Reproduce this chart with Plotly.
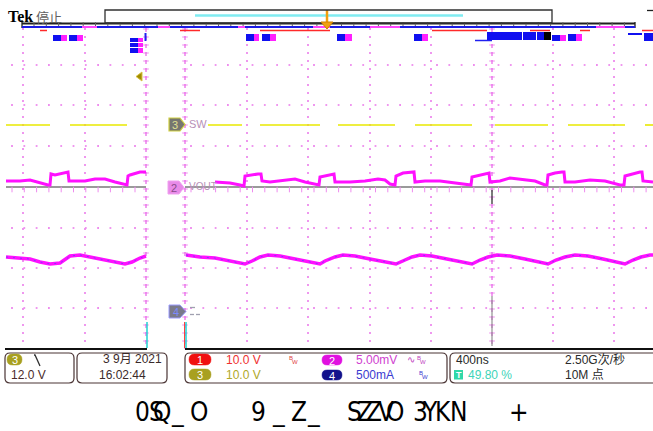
import numpy as np
import plotly.graph_objects as go

W, H = 653, 431

# ---------------- values (screen pixel units) ----------------
# Channel 3 (SW): high-level segments
ch3_x0 = [6, 70, 208, 260, 338, 415, 495, 568, 645]
ch3_x1 = [50, 127, 242, 320, 395, 472, 548, 625, 653]
ch3_level = 125

# Channel 2 (VOUT ripple)
ch2_left_x = [6, 20, 30, 40, 48, 50, 51, 55, 60, 66, 68, 69, 75, 85, 95, 105, 115, 125, 127, 128, 130, 140, 146]
ch2_left_y = [181, 181, 180, 183, 185, 185, 174, 175, 174, 173, 172, 181, 181, 181, 179, 179, 182, 185, 185, 176, 175, 172, 172]
ch2_right_x = [215, 230, 240, 244, 245, 250, 258, 261, 262, 270, 285, 295, 305, 318, 319, 320, 328, 334, 335, 350,
               365, 378, 385, 390, 395, 396, 403, 412, 414, 415, 425, 440, 455, 470, 471, 472, 480, 488, 489, 490,
               500, 510, 520, 535, 545, 547, 548, 555, 562, 564, 565, 575, 590, 605, 620, 624, 625, 632, 640, 642,
               643, 653]
ch2_right_y = [182, 183, 185, 186, 176, 175, 174, 174, 181, 182, 180, 179, 182, 185, 185, 177, 175, 174, 182, 182,
               181, 179, 180, 184, 185, 176, 173, 172, 172, 182, 181, 181, 183, 185, 185, 177, 175, 173, 173, 182,
               181, 178, 179, 181, 185, 185, 175, 173, 172, 172, 182, 182, 180, 181, 185, 185, 176, 174, 172, 172,
               181, 182]

# Current waveform (lower trace)
ch4_left_x = [6, 20, 30, 40, 50, 60, 65, 70, 80, 90, 100, 110, 120, 125, 132, 140, 146]
ch4_left_y = [257, 258, 259, 262, 264, 263, 260, 256, 255, 257, 259, 261, 263, 264, 262, 258, 256]
ch4_right_x = [186, 200, 215, 230, 240, 245, 252, 260, 268, 280, 295, 310, 320, 325, 335, 343, 355, 370, 385, 396,
               405, 412, 420, 432, 447, 462, 472, 480, 488, 497, 510, 525, 538, 548, 556, 565, 575, 588, 603, 615,
               625, 633, 641, 650, 653]
ch4_right_y = [255, 257, 258, 261, 263, 264, 261, 257, 255, 256, 259, 262, 264, 261, 257, 255, 256, 259, 262, 264,
               260, 257, 255, 256, 259, 262, 264, 260, 257, 255, 256, 259, 262, 264, 260, 257, 255, 256, 259, 262,
               264, 260, 257, 255, 255]

# Graticule
grid_x = [23, 85, 247, 308, 370, 431, 553, 614]
grid_axis_x = [146, 185, 492]
grid_y = [65, 105, 146, 228, 268, 308]
ch2_ground = 187
screen_top, screen_bottom = 28, 349
left_sec = (6, 146)
right_sec = (185, 653)
dot_dx, dot_dy = 12.3, 8

# Header indicator blocks (x0, x1, y0, y1)
blue_blocks = [(53, 61, 35, 41), (69, 77, 35, 41), (130, 138, 38, 42), (130, 138, 43, 47), (130, 138, 48, 53),
               (246, 254, 34, 41), (262, 270, 34, 41), (337, 345, 34, 41), (414, 422, 34, 41), (487, 522, 32, 40),
               (523, 536, 32, 40), (537, 544, 32, 40), (552, 560, 35, 41), (568, 576, 34, 41), (644, 653, 33, 41),
               (628, 642, 33, 35)]
mag_blocks = [(61, 67, 35, 41), (77, 83, 35, 41), (138, 143, 38, 42), (138, 143, 43, 47), (138, 143, 48, 53),
              (254, 259, 34, 41), (270, 276, 34, 41), (345, 352, 34, 41), (422, 428, 34, 41), (560, 566, 35, 41),
              (576, 582, 34, 41)]
black_blocks = [(544, 551, 32, 40)]
mag_ruler = [(82, 97), (158, 170), (238, 245), (313, 330), (370, 400), (596, 625)]
red_ruler = [(40, 47), (180, 200), (260, 330), (432, 487), (530, 550), (580, 590), (642, 653)]

# Status boxes (x0, x1, y0, y1)
status_boxes = [(5, 74, 353, 383), (77, 167, 353, 383), (185, 447, 353, 383), (450, 660, 353, 383)]

# Bottom caption glyphs
cap_chars = ["0", "S", "Q", "_", "O", "9", "_", "Z", "_", "S", "Z", "Z", "V", "O", "3", "Y", "K", "N", "+"]
cap_xc = [142, 156, 162, 177, 199, 258, 278, 299, 313, 354, 365, 374, 386, 395, 420, 430, 443, 459, 519]

# ---------------- figure ----------------
fig = go.Figure()
shapes = []
ann = []


def line(xs, ys, color, width=1, dash=None, mode="lines", **kw):
    fig.add_trace(go.Scatter(x=xs, y=ys, mode=mode, hoverinfo="skip", showlegend=False,
                             line=dict(color=color, width=width, dash=dash), **kw))


def rect(x0, x1, y0, y1, fill, lc=None, lw=0):
    shapes.append(dict(type="rect", xref="x", yref="y", x0=x0, x1=x1, y0=y0, y1=y1,
                       fillcolor=fill, line=dict(color=lc or fill, width=lw), layer="above"))


def rrect_path(x0, x1, y0, y1, r):
    return (f"M{x0+r},{y0} L{x1-r},{y0} Q{x1},{y0} {x1},{y0+r} L{x1},{y1-r} Q{x1},{y1} {x1-r},{y1} "
            f"L{x0+r},{y1} Q{x0},{y1} {x0},{y1-r} L{x0},{y0+r} Q{x0},{y0} {x0+r},{y0} Z")


def text(x, y, s, color, size=12, xanchor="left", family="Liberation Sans, Arial, sans-serif", bold=False):
    if bold:
        s = f"<b>{s}</b>"
    ann.append(dict(x=x, y=y, xref="x", yref="y", text=s, showarrow=False, xanchor=xanchor,
                    yanchor="middle", font=dict(color=color, size=size, family=family)))


PINK = "#ee8cee"

# graticule dots: vertical
for gx in grid_x:
    ys = np.arange(screen_top + 1, screen_bottom - 2, dot_dy)
    line([gx] * len(ys), ys, PINK, mode="markers", marker=dict(size=1.8, color=PINK, symbol="square"))
# horizontal
for gy in grid_y:
    for a, b in (left_sec, right_sec):
        xs = np.arange(a + 6, b, dot_dx)
        line(xs, [gy] * len(xs), PINK, mode="markers", marker=dict(size=1.8, color=PINK, symbol="square"))
# axis lines with ticks (gap edges and centre)
for gx in grid_axis_x:
    ys = np.arange(screen_top + 1, screen_bottom - 2, dot_dy)
    line([gx] * len(ys), ys, PINK, mode="markers",
         marker=dict(size=4, color=PINK, symbol="line-ew", line=dict(width=1, color=PINK)))
    line([gx, gx], [screen_top, screen_bottom], "#e860e8", width=1.2, dash="4px,4px")
# dark marks on centre line
line([492, 492], [190, 204], "#505050", width=1.5)
line([492, 492], [296, 346], "#909090", width=1.2)
# cyan at gap edges bottom
line([147, 147], [322, 348], "#20d0d0", width=1.5)
line([186, 186], [322, 348], "#20d0d0", width=1.5)
line([184.5, 184.5], [322, 348], "#ff4040", width=1)

# ch2 ground line with ticks
for a, b in (left_sec, right_sec):
    line([a, b], [ch2_ground, ch2_ground], "#9a9a9a", width=2)
    xs = np.arange(a + 6, b, dot_dx)
    line(xs, [ch2_ground + 2.5] * len(xs), PINK, mode="markers",
         marker=dict(size=4, color=PINK, symbol="line-ns", line=dict(width=1, color=PINK)))

# screen bottom line
line([5, 147], [screen_bottom, screen_bottom], "#101010", width=2)
line([185, 653], [screen_bottom, screen_bottom], "#101010", width=2)

# ---------------- waveforms ----------------
for a, b in zip(ch3_x0, ch3_x1):
    line([a, b], [ch3_level, ch3_level], "#e8e800", width=1.6)

MAG = "#ff10ff"
line(ch2_left_x, ch2_left_y, MAG, width=3)
line(ch2_right_x, ch2_right_y, MAG, width=3)
line(ch4_left_x, ch4_left_y, MAG, width=3.5)
line(ch4_right_x, ch4_right_y, MAG, width=3.5)
line(ch4_left_x, ch4_left_y, "#6a3cff", width=0.8, dash="2px,5px")
line(ch4_right_x, ch4_right_y, "#6a3cff", width=0.8, dash="2px,5px")

# ---------------- header ----------------
text(6, 16, "Tek", "#000000", size=16, family="Liberation Serif, DejaVu Serif, serif", bold=True)
text(34, 16, "停止", "#606060", size=13, family="Noto Sans CJK SC, sans-serif")
shapes.append(dict(type="rect", xref="x", yref="y", x0=105, x1=552, y0=10, y1=23,
                   line=dict(color="#303030", width=1.3), fillcolor="rgba(0,0,0,0)"))
line([195, 463], [15.5, 15.5], "#80ecf2", width=2.5)
line([647, 653], [10.5, 10.5], "#202020", width=1.3)
# ruler
line([22, 635], [23.5, 23.5], "#202020", width=2)
line([22, 22], [20, 28], "#202020", width=1.3)
line([635, 635], [22, 28], "#202020", width=1.3)
tx = np.arange(34, 632, 12.3)
line(tx, [25] * len(tx), "#606060", mode="markers",
     marker=dict(size=4, color="#606060", symbol="line-ns", line=dict(width=1, color="#606060")))
line([22, 635], [27, 27], "#1c1ce6", width=2)
for a, b in mag_ruler:
    line([a, b], [27, 27], "#ff44ff", width=2)
for a, b in red_ruler:
    line([a, b], [30.5, 30.5], "#ff2a2a", width=1.5)
# trigger position marker
line([327, 327], [10, 23], "#f0a010", width=2.5)
shapes.append(dict(type="path", xref="x", yref="y", path="M321,22 L333,22 L327,29 Z",
                   fillcolor="#f0a010", line=dict(color="#d08000", width=1)))

for (x0, x1, y0, y1) in blue_blocks:
    rect(x0, x1, y0, y1, "#1010f0")
for (x0, x1, y0, y1) in mag_blocks:
    rect(x0, x1, y0, y1, "#ff20ff")
for (x0, x1, y0, y1) in black_blocks:
    rect(x0, x1, y0, y1, "#000000")
line([475, 492], [40.5, 40.5], "#2020f0", width=1.5)
line([145.5, 145.5], [33, 41], "#2020f0", width=2)

# trigger level arrow
shapes.append(dict(type="path", xref="x", yref="y", path="M136,76.5 L142,72 L142,81 Z",
                   fillcolor="#a08c00", line=dict(color="#d8c040", width=1)))

# channel markers
shapes.append(dict(type="path", xref="x", yref="y", path="M169,118 L180,118 L185,124.5 L180,131 L169,131 Z",
                   fillcolor="#767670", line=dict(color="#d0d040", width=1.2)))
text(175, 124.5, "3", "#e0e090", size=11, xanchor="center")
text(187, 124, "SW", "#b890b8", size=11)
shapes.append(dict(type="path", xref="x", yref="y", path="M168,181 L179,181 L184,187.5 L179,194 L168,194 Z",
                   fillcolor="#e88ae8", line=dict(color="#f0a0f0", width=1)))
text(174, 187.5, "2", "#8a4a8a", size=11, xanchor="center")
text(187, 186, "VOUT", "#b890b8", size=10)
shapes.append(dict(type="path", xref="x", yref="y", path="M169,305 L180,305 L186,311.5 L180,318 L169,318 Z",
                   fillcolor="#7a7a8a", line=dict(color="#9a9aff", width=1)))
text(176, 311.5, "4", "#7a8aff", size=11, xanchor="center")
line([190, 195], [307.5, 307.5], "#a0a0b0", width=1.3)
line([190, 194], [314.5, 314.5], "#a0a0b0", width=1.3)
line([196, 200], [314.5, 314.5], "#a0a0b0", width=1.3)

# ---------------- status area ----------------
for (x0, x1, y0, y1) in status_boxes:
    shapes.append(dict(type="path", xref="x", yref="y", path=rrect_path(x0, x1, y0, y1, 5),
                       fillcolor="rgba(0,0,0,0)", line=dict(color="#4a3434", width=1.2)))


def pill(x0, x1, y0, y1, fill, label, lc="#ffffff"):
    shapes.append(dict(type="path", xref="x", yref="y", path=rrect_path(x0, x1, y0, y1, (y1 - y0) / 2),
                       fillcolor=fill, line=dict(color=fill, width=0.5), layer="above"))
    text((x0 + x1) / 2, (y0 + y1) / 2 + 0.5, label, lc, size=11, xanchor="center")


pill(7, 22, 354, 365, "#a8a020", "3")
line([34, 35, 40], [355, 355, 366], "#303030", width=1.3)
text(9, 375, "12.0 V", "#4a2a2a", size=12)
text(164, 359, "3 9月 2021", "#3a2a2a", size=12, xanchor="right", family="Liberation Sans, Noto Sans CJK SC, sans-serif")
text(97, 375, "16:02:44", "#3a2a2a", size=12)

pill(189, 211, 354, 365, "#f01010", "1")
text(224, 359.5, "10.0 V", "#f03030", size=12)
text(287, 357.5, "B", "#e04040", size=6)
text(290, 362, "W", "#e04040", size=6)
pill(189, 211, 369, 380, "#a8a020", "3")
text(224, 375, "10.0 V", "#b0a828", size=12)
pill(322, 342, 355, 365, "#e010e0", "2")
text(354, 359.5, "5.00mV", "#d040d0", size=12)
text(405, 359.5, "∿", "#c040c0", size=10)
text(415, 357.5, "B", "#c040c0", size=6)
text(418, 362, "W", "#c040c0", size=6)
pill(322, 342, 370, 380, "#12128c", "4")
text(354, 375, "500mA", "#3a3ad0", size=12)
text(417, 372.5, "B", "#3a3ad0", size=6)
text(420, 377, "W", "#3a3ad0", size=6)

text(454, 359.5, "400ns", "#2a2a2a", size=12)
text(563, 359.5, "2.50G次/秒", "#2a2a2a", size=12, family="Liberation Sans, Noto Sans CJK SC, sans-serif")
rect(454, 463, 370, 379.5, "#30d8a8")
text(458.5, 375, "T", "#ffffff", size=9, xanchor="center", bold=True)
text(466, 375, "49.80 %", "#40d4b8", size=12)
text(563, 375, "10M 点", "#2a2a2a", size=12, family="Liberation Sans, Noto Sans CJK SC, sans-serif")

# ---------------- bottom caption ----------------
for ch, xc in zip(cap_chars, cap_xc):
    text(xc, 412, ch, "#000000", size=26, xanchor="center",
         family="Liberation Sans Narrow, DejaVu Sans Condensed, Arial Narrow, sans-serif")

fig.update_layout(
    width=W, height=H, margin=dict(l=0, r=0, t=0, b=0),
    paper_bgcolor="white", plot_bgcolor="white",
    xaxis=dict(range=[0, W], visible=False, fixedrange=True),
    yaxis=dict(range=[H, 0], visible=False, fixedrange=True),
    shapes=shapes, annotations=ann,
)
fig.write_html("out.html", config={"displayModeBar": False},
               post_script="document.body.style.margin='0';document.body.style.overflow='hidden';")
